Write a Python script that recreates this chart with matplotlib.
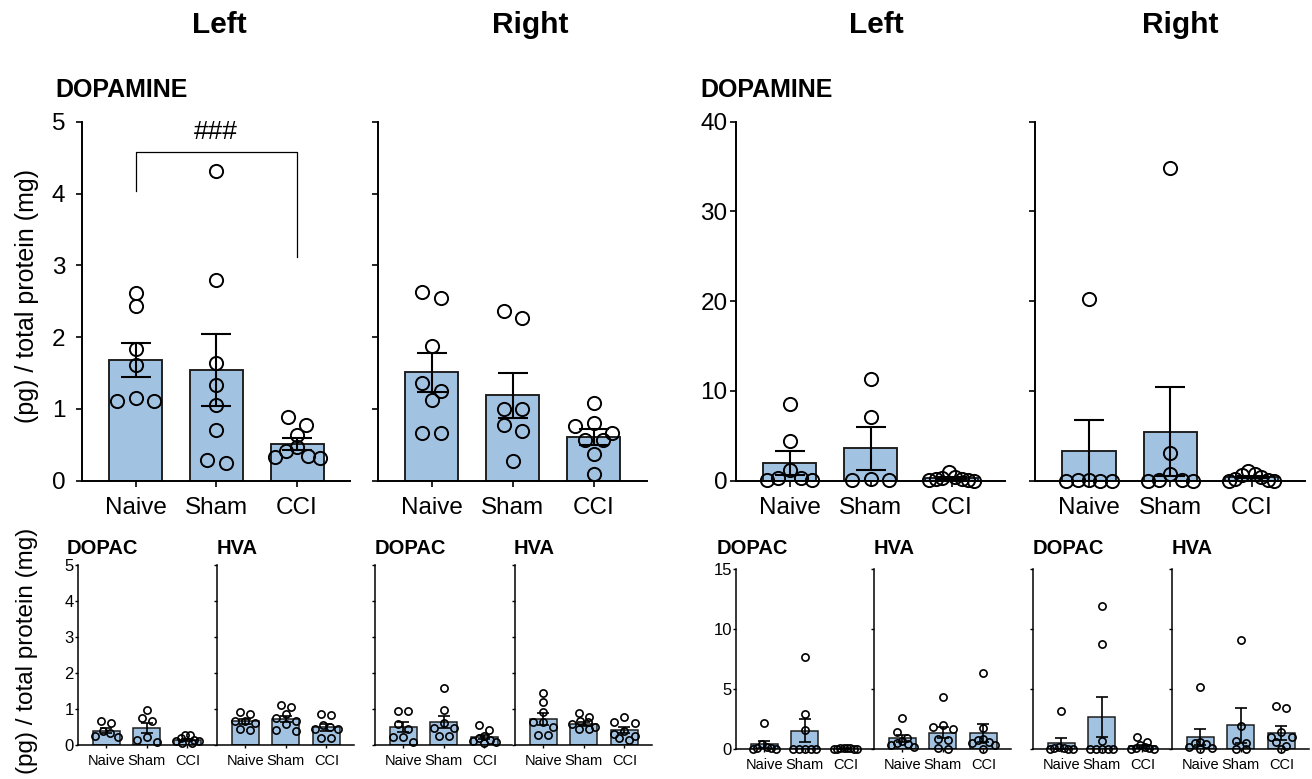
import numpy as np
import matplotlib
matplotlib.use("Agg")
import matplotlib.pyplot as plt

plt.rcParams['font.family'] = ['Liberation Sans', 'DejaVu Sans']

groups = ["Naive", "Sham", "CCI"]
ylab = "(pg) / total protein (mg)"

# ---- dopamine, left half of the figure (0-5 scale) ----
daA_left_pts = [[2.61, 2.43, 1.83, 1.61, 1.15, 1.11, 1.11],
                [4.32, 2.79, 1.64, 1.33, 1.06, 0.71, 0.29, 0.25],
                [0.89, 0.78, 0.64, 0.47, 0.42, 0.34, 0.33, 0.31]]
daA_left_mean = [1.68, 1.54, 0.51]
daA_left_sem = [0.24, 0.50, 0.08]

daA_right_pts = [[2.63, 2.54, 1.88, 1.36, 1.25, 1.13, 0.67, 0.67],
                 [2.36, 2.27, 1.00, 1.00, 0.77, 0.69, 0.27],
                 [1.08, 0.80, 0.76, 0.67, 0.57, 0.57, 0.37, 0.09]]
daA_right_mean = [1.51, 1.19, 0.61]
daA_right_sem = [0.27, 0.31, 0.11]

# ---- dopamine, right half of the figure (0-40 scale) ----
daB_left_pts = [[8.6, 4.4, 1.2, 0.3, 0.3, 0.05, 0.05],
                [11.35, 7.1, 0.2, 0.05, 0.05],
                [0.95, 0.4, 0.3, 0.2, 0.15, 0.1, 0.05, 0.02]]
daB_left_mean = [1.97, 3.61, 0.28]
daB_left_sem = [1.3, 2.4, 0.11]

daB_right_pts = [[20.2, 0.1, 0.1, 0.0, 0.0, 0.0],
                 [34.8, 3.05, 0.74, 0.1, 0.1, 0.0, 0.0],
                 [1.04, 0.74, 0.63, 0.37, 0.15, 0.1, 0.0, 0.0]]
daB_right_mean = [3.35, 5.47, 0.38]
daB_right_sem = [3.4, 4.95, 0.13]

# ---- DOPAC / HVA, left half (0-5 scale) ----
dopacA_left_pts = [[0.66, 0.60, 0.38, 0.33, 0.25, 0.21],
                   [0.98, 0.75, 0.66, 0.21, 0.13, 0.09],
                   [0.27, 0.27, 0.20, 0.15, 0.12, 0.10, 0.05, 0.05]]
dopacA_left_mean = [0.40, 0.47, 0.15]
dopacA_left_sem = [0.08, 0.15, 0.03]

hvaA_left_pts = [[0.93, 0.85, 0.68, 0.66, 0.62, 0.44, 0.42],
                 [1.12, 1.06, 0.85, 0.75, 0.68, 0.58, 0.42, 0.40],
                 [0.87, 0.82, 0.55, 0.49, 0.44, 0.44, 0.19, 0.19]]
hvaA_left_mean = [0.66, 0.72, 0.49]
hvaA_left_sem = [0.07, 0.09, 0.09]

dopacA_right_pts = [[0.94, 0.94, 0.58, 0.44, 0.23, 0.23, 0.09],
                    [1.59, 0.97, 0.62, 0.47, 0.47, 0.25, 0.25],
                    [0.56, 0.42, 0.25, 0.20, 0.15, 0.10, 0.08, 0.05]]
dopacA_right_mean = [0.49, 0.64, 0.23]
dopacA_right_sem = [0.14, 0.17, 0.06]

hvaA_right_pts = [[1.45, 1.20, 0.93, 0.65, 0.65, 0.50, 0.28, 0.28],
                  [0.88, 0.77, 0.68, 0.63, 0.58, 0.50, 0.44, 0.44],
                  [0.77, 0.65, 0.60, 0.39, 0.30, 0.25, 0.20, 0.13]]
hvaA_right_mean = [0.72, 0.58, 0.41]
hvaA_right_sem = [0.16, 0.06, 0.08]

# ---- DOPAC / HVA, right half (0-15 scale) ----
dopacB_left_pts = [[2.2, 0.4, 0.2, 0.1, 0.05, 0.0, 0.0],
                   [7.64, 2.92, 1.58, 0.0, 0.0, 0.0, 0.0, 0.0],
                   [0.1, 0.08, 0.05, 0.05, 0.03, 0.02, 0.0, 0.0]]
dopacB_left_mean = [0.39, 1.53, 0.04]
dopacB_left_sem = [0.30, 0.94, 0.01]

hvaB_left_pts = [[2.56, 1.44, 0.9, 0.7, 0.5, 0.4, 0.3, 0.2],
                 [4.3, 2.0, 1.8, 1.64, 0.8, 0.75, 0.05, 0.0],
                 [6.3, 1.75, 0.85, 0.75, 0.6, 0.5, 0.35, 0.0]]
hvaB_left_mean = [0.89, 1.36, 1.36]
hvaB_left_sem = [0.28, 0.47, 0.76]

dopacB_right_pts = [[3.2, 0.2, 0.1, 0.05, 0.0, 0.0, 0.0],
                    [11.9, 8.74, 0.7, 0.0, 0.0, 0.0, 0.0, 0.0],
                    [0.98, 0.6, 0.3, 0.15, 0.1, 0.05, 0.0, 0.0]]
dopacB_right_mean = [0.48, 2.66, 0.22]
dopacB_right_sem = [0.44, 1.68, 0.12]

hvaB_right_pts = [[5.18, 0.6, 0.5, 0.4, 0.2, 0.1, 0.0],
                  [9.05, 1.88, 0.7, 0.48, 0.0, 0.0],
                  [3.56, 3.45, 1.4, 0.98, 0.98, 0.56, 0.22, 0.0]]
hvaB_right_mean = [0.98, 1.96, 1.34]
hvaB_right_sem = [0.67, 1.49, 0.56]

BAR = "#a2c2e2"
EDGE = "#1a1a1a"
W, H = 1312, 779
fig = plt.figure(figsize=(W / 100, H / 100), dpi=100)


def add_ax(left, top, width, height):
    return fig.add_axes([left / W, 1 - (top + height) / H, width / W, height / H])


def swarm_x(ax, vals, xc, diam, maxw):
    # group points into horizontal rows, spread each row out from the bar centre
    x0, x1 = ax.get_xlim()
    y0, y1 = ax.get_ylim()
    sx = ax.bbox.width / (x1 - x0)
    sy = ax.bbox.height / (y1 - y0)
    order = sorted(range(len(vals)), key=lambda i: -vals[i])
    rows = []
    for i in order:
        if rows and (vals[rows[-1][0]] - vals[i]) * sy < diam * 0.9:
            rows[-1].append(i)
        else:
            rows.append([i])
    xs = [0.0] * len(vals)
    for row in rows:
        n = len(row)
        sp = diam * 1.4
        if n > 1:
            sp = min(sp, maxw / (n - 1))
        slots = [k - (n - 1) / 2 for k in range(n)]
        slots.sort(key=lambda s: (abs(s), s))
        for s, i in zip(slots, row):
            xs[i] = xc + s * sp / sx
    return xs


def panel(ax, pts, means, sems, ylim, yticks, show_ylabels, big):
    x = np.arange(3)
    if big:
        bw, ms, mew, lw, cs, spw, ytl, xtl = 0.656, 9.5, 1.4, 1.5, 10.5, 1.4, 17.5, 17.5
        ax.set_xlim(-0.663, 2.656)
    else:
        bw, ms, mew, lw, cs, spw, ytl, xtl = 0.67, 5.2, 1.2, 1.2, 4.3, 1.1, 12, 10.5
        ax.set_xlim(-0.7, 2.68)
    ax.set_ylim(*ylim)
    ax.bar(x, means, width=bw, color=BAR, edgecolor=EDGE, linewidth=lw * 0.9, zorder=2)
    maxw = bw * 0.85 * ax.bbox.width / (ax.get_xlim()[1] - ax.get_xlim()[0])
    for i, vals in enumerate(pts):
        xs = swarm_x(ax, vals, i, ms * 1.389, maxw)
        ax.plot(xs, vals, 'o', mfc='none', mec='black', mew=mew, ms=ms,
                zorder=3, clip_on=False)
    ax.errorbar(x, means, yerr=sems, fmt='none', ecolor='black', elinewidth=lw,
                capsize=cs, capthick=lw, zorder=4)
    for s in ['top', 'right']:
        ax.spines[s].set_visible(False)
    for s in ['left', 'bottom']:
        ax.spines[s].set_linewidth(spw)
    ax.set_yticks(yticks)
    ax.set_xticks(x)
    ax.set_xticklabels(groups, fontsize=xtl)
    if big:
        ax.tick_params(axis='both', length=4, width=1.2)
        ax.tick_params(axis='x', pad=8)
        ax.tick_params(axis='y', labelsize=ytl, pad=4)
    else:
        ax.tick_params(axis='both', length=2.5, width=1.0)
        ax.tick_params(axis='x', pad=4)
        ax.tick_params(axis='y', labelsize=ytl, pad=0.5)
    if not show_ylabels:
        ax.set_yticklabels([])


# top row: dopamine
axA = add_ax(82, 121.7, 268, 359)
panel(axA, daA_left_pts, daA_left_mean, daA_left_sem, (0, 5), range(0, 6), True, True)
axA.tick_params(axis='y', pad=8)
axA.plot([0, 0, 2, 2], [4.04, 4.58, 4.58, 3.12], color='black', lw=0.9, zorder=5)
axA.text(1, 4.86, "###", ha='center', va='center', fontsize=19)

axB = add_ax(378, 121.7, 269, 359)
panel(axB, daA_right_pts, daA_right_mean, daA_right_sem, (0, 5), range(0, 6), False, True)

axC = add_ax(736, 121.7, 269, 359)
panel(axC, daB_left_pts, daB_left_mean, daB_left_sem, (0, 40), range(0, 41, 10), True, True)
axC.tick_params(axis='y', pad=2)

axD = add_ax(1035, 121.7, 270, 359)
panel(axD, daB_right_pts, daB_right_mean, daB_right_sem, (0, 40), range(0, 41, 10), False, True)

# bottom row: DOPAC and HVA
bottom = [
    (78, 565, dopacA_left_pts, dopacA_left_mean, dopacA_left_sem, (0, 5), range(0, 6), True),
    (217, 565, hvaA_left_pts, hvaA_left_mean, hvaA_left_sem, (0, 5), range(0, 6), False),
    (375, 565, dopacA_right_pts, dopacA_right_mean, dopacA_right_sem, (0, 5), range(0, 6), False),
    (515, 565, hvaA_right_pts, hvaA_right_mean, hvaA_right_sem, (0, 5), range(0, 6), False),
    (736, 569, dopacB_left_pts, dopacB_left_mean, dopacB_left_sem, (0, 15), range(0, 16, 5), True),
    (874, 569, hvaB_left_pts, hvaB_left_mean, hvaB_left_sem, (0, 15), range(0, 16, 5), False),
    (1033, 569, dopacB_right_pts, dopacB_right_mean, dopacB_right_sem, (0, 15), range(0, 16, 5), False),
    (1172, 569, hvaB_right_pts, hvaB_right_mean, hvaB_right_sem, (0, 15), range(0, 16, 5), False),
]
for left, top, p, m, e, yl, yt, lab in bottom:
    ax = add_ax(left, top, 137, 180)
    panel(ax, p, m, e, yl, yt, lab, False)


def ftext(x, y, s, **kw):
    fig.text(x / W, 1 - y / H, s, **kw)


for x, s in [(219, "Left"), (530, "Right"), (876, "Left"), (1180, "Right")]:
    ftext(x, 25, s, ha='center', va='center', fontsize=21.5, fontweight='bold')

ftext(55, 90, "DOPAMINE", ha='left', va='center', fontsize=18, fontweight='bold')
ftext(700, 90, "DOPAMINE", ha='left', va='center', fontsize=18, fontweight='bold')

for x, s in [(67, "DOPAC"), (217, "HVA"), (375, "DOPAC"), (514, "HVA"),
             (717, "DOPAC"), (874, "HVA"), (1033, "DOPAC"), (1172, "HVA")]:
    ftext(x, 549, s, ha='left', va='center', fontsize=14.5, fontweight='bold')

ftext(27, 296, ylab, ha='center', va='center', rotation=90, fontsize=18)
ftext(27, 651, ylab, ha='center', va='center', rotation=90, fontsize=17.5)

fig.savefig("out.png", dpi=100)
